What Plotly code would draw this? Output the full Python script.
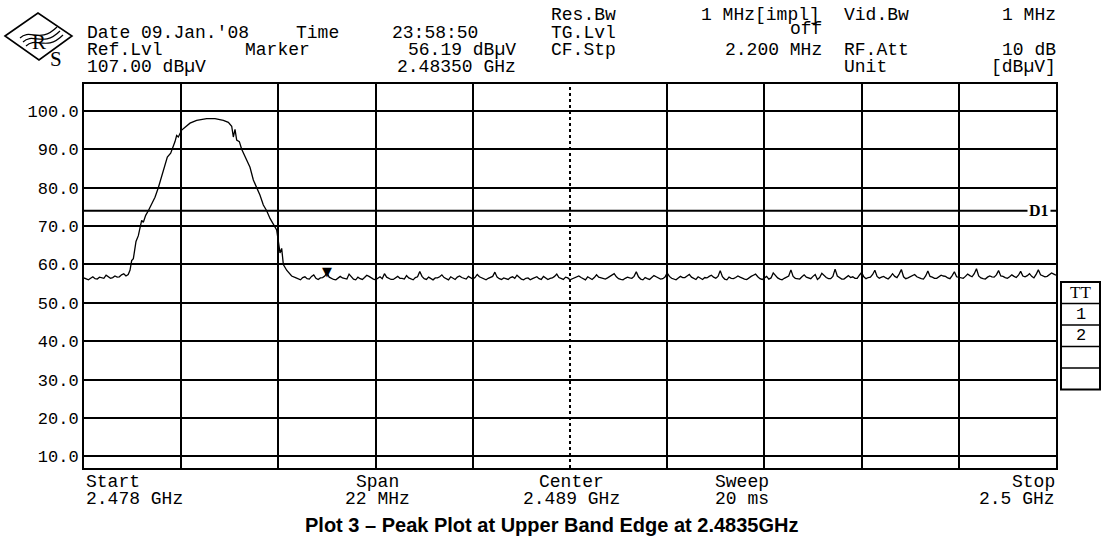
import numpy as np
import plotly.graph_objects as go

# ---------------- data ----------------
start_mhz, stop_mhz = 2478.0, 2500.0
ref_level_db, bottom_level_db = 107.0, 7.0
grid_db = [10, 20, 30, 40, 50, 60, 70, 80, 90, 100]
div_mhz = 2.2
center_mhz = 2489.0
display_line_db = 74.0
marker_freq_mhz = 2483.5
marker_level_db = 56.19

left_floor_db = [56.5, 56.2, 56.0, 56.4, 56.8, 56.3, 56.2, 56.7, 56.6, 56.4,
                 57.2, 56.8, 56.4, 56.6, 57.0, 56.7, 56.8, 57.3, 57.6, 57.0]
left_floor_freq = list(np.round(2478.0 + 0.05 * np.arange(len(left_floor_db)), 3))

edge_freq = [2479.000, 2479.041, 2479.079, 2479.117, 2479.177, 2479.230, 2479.268, 2479.305, 2479.343,
             2479.396, 2479.456, 2479.532, 2479.607, 2479.682, 2479.781, 2479.833, 2479.886, 2479.962,
             2480.022, 2480.060, 2480.097, 2480.135, 2480.211, 2480.309, 2480.399, 2480.550, 2480.777,
             2480.965, 2481.154, 2481.267, 2481.343, 2481.380, 2481.418, 2481.456, 2481.516, 2481.569,
             2481.644, 2481.720, 2481.757, 2481.833, 2481.908, 2481.984, 2482.059, 2482.135, 2482.210,
             2482.285, 2482.361, 2482.399, 2482.436, 2482.474, 2482.512, 2482.587, 2482.700]
edge_db = [57.4, 58.5, 61.0, 61.5, 66.0, 67.5, 70.0, 71.5, 71.0,
           72.8, 74.0, 76.0, 77.5, 80.0, 84.0, 85.8, 88.0, 89.0,
           90.6, 92.0, 93.6, 93.2, 95.0, 96.0, 96.8, 97.5, 98.0,
           98.0, 97.5, 97.0, 96.0, 93.2, 95.2, 92.4, 92.0, 90.0,
           88.0, 86.0, 85.3, 82.0, 80.0, 78.0, 75.5, 74.0, 72.0,
           70.5, 69.0, 66.0, 63.0, 64.2, 60.0, 58.5, 57.0]

right_floor_db = [
    56.5, 56.2, 56.0, 56.6, 56.8, 56.3, 56.2, 56.9, 57.3, 56.4, 56.1, 56.5, 56.6, 57.0, 57.8, 56.7, 56.3, 56.1, 56.0, 56.4,
    56.9, 56.5, 56.4, 56.2, 57.5, 56.8, 56.2, 56.0, 56.7, 56.3, 56.1, 56.6, 57.2, 56.9, 56.5, 56.2, 56.0, 56.5, 56.8, 56.3,
    57.6, 56.7, 56.3, 56.1, 56.1, 56.6, 56.9, 56.4, 56.4, 56.2, 57.1, 56.5, 56.2, 56.0, 56.6, 56.8, 58.2, 56.9, 56.3, 56.1,
    56.7, 56.3, 56.0, 56.5, 56.5, 56.8, 57.3, 56.6, 56.2, 56.0, 56.8, 56.4, 56.1, 56.7, 57.0, 56.6, 56.4, 56.2, 56.9, 56.5,
    56.2, 56.6, 57.4, 56.8, 56.6, 56.3, 56.0, 56.4, 56.7, 56.9, 58.0, 56.7, 56.3, 56.1, 56.5, 56.3, 56.1, 56.6, 56.8, 56.4,
    57.2, 56.7, 56.2, 56.0, 56.4, 56.5, 56.0, 56.3, 56.6, 56.8, 56.3, 56.1, 56.9, 56.5, 56.1, 56.4, 56.5, 56.9, 57.5, 56.6,
    56.3, 56.1, 56.7, 56.5, 56.0, 56.2, 56.4, 56.8, 57.0, 56.6, 56.2, 56.0, 56.8, 56.5, 56.1, 56.6, 57.3, 56.7, 56.5, 56.2,
    56.2, 56.5, 56.9, 57.1, 57.6, 56.8, 56.3, 56.1, 56.0, 56.4, 56.7, 56.5, 56.4, 56.9, 58.1, 56.8, 56.2, 56.0, 56.6, 56.3,
    56.1, 56.6, 57.1, 56.8, 56.5, 56.2, 56.3, 56.7, 57.8, 56.9, 56.4, 56.1, 56.0, 56.5, 56.9, 56.6, 56.6, 57.0, 57.4, 56.7,
    56.3, 56.1, 56.8, 56.4, 56.1, 56.6, 56.5, 56.9, 57.2, 56.7, 56.4, 56.9, 58.4, 56.8, 56.2, 56.0, 56.7, 56.4, 56.3, 56.6,
    57.0, 56.7, 56.4, 56.2, 56.1, 56.6, 56.9, 57.2, 57.5, 56.8, 56.3, 56.1, 56.6, 56.9, 56.2, 56.5, 57.8, 57.1, 56.5, 56.2,
    56.0, 56.4, 56.7, 57.0, 58.6, 56.9, 56.4, 56.2, 56.2, 56.8, 57.3, 56.7, 56.5, 56.3, 56.9, 57.4, 56.1, 56.6, 57.7, 57.0,
    56.6, 56.3, 56.3, 56.9, 58.8, 57.0, 56.5, 56.2, 56.2, 56.7, 57.1, 56.6, 56.8, 56.4, 56.4, 57.2, 57.9, 56.8, 56.3, 56.6,
    56.7, 57.4, 58.5, 56.9, 56.4, 56.7, 56.9, 56.5, 56.2, 56.8, 57.6, 56.9, 56.6, 57.5, 58.7, 56.8, 56.3, 56.5, 56.8, 57.1,
    57.4, 56.8, 56.5, 56.3, 56.2, 57.0, 58.3, 56.9, 56.7, 56.4, 56.4, 56.8, 57.2, 57.0, 56.9, 56.5, 56.3, 57.1, 58.1, 56.8,
    56.6, 56.4, 56.4, 56.9, 57.5, 57.1, 56.8, 57.6, 58.9, 57.0, 56.5, 56.3, 56.2, 56.7, 57.0, 56.8, 56.7, 57.3, 58.4, 57.0,
    56.9, 56.6, 56.4, 56.8, 57.3, 56.9, 56.6, 57.2, 58.2, 57.0, 56.8, 57.1, 57.6, 56.9, 56.5, 57.4, 58.6, 57.3, 57.1, 56.8,
    56.9, 57.4, 57.8, 57.5, 57.2]
right_floor_freq = list(np.round(2482.8 + 0.05 * np.arange(len(right_floor_db)), 3))

freq = left_floor_freq + edge_freq + right_floor_freq
level = left_floor_db + edge_db + right_floor_db

header_rows = [
    [("Res.Bw", 549, "left"), ("1 MHz[impl]", 822, "right"), ("Vid.Bw", 842, "left"), ("1 MHz", 1058, "right")],
    [("Date 09.Jan.'08", 85, "left"), ("Time", 294, "left"), ("23:58:50", 480, "right"),
     ("TG.Lvl", 549, "left")],
    [("Ref.Lvl", 85, "left"), ("Marker", 243, "left"), ("56.19 dBµV", 518, "right"), ("CF.Stp", 549, "left"),
     ("2.200 MHz", 824, "right"), ("RF.Att", 842, "left"), ("10 dB", 1058, "right")],
    [("107.00 dBµV", 85, "left"), ("2.48350 GHz", 518, "right"), ("Unit", 842, "left"), ("[dBµV]", 1058, "right")],
]
header_y = [15, 33, 50, 67]

footer_items = [
    ("Start", "2.478 GHz", 84, "left"),
    ("Span", "22 MHz", 377, "center"),
    ("Center", "2.489 GHz", 571, "center"),
    ("Sweep", "20 ms", 713, "left"),
    ("Stop", "2.5 GHz", 1057, "right"),
]
caption = "Plot 3 – Peak Plot at Upper Band Edge at 2.4835GHz"
tt_rows = ["TT", "1", "2", "", ""]

# ---------------- layout helpers ----------------
W, H = 1103, 544
L, R, T, B = 84, 1056, 84, 468


def px(x):
    return (x - L) / (R - L)


def py(y):
    return (B - y) / (B - T)


MONO = "Liberation Mono, DejaVu Sans Mono, monospace"
HSIZE = 18

fig = go.Figure()
fig.add_trace(go.Scatter(x=freq, y=level, mode="lines",
                         line=dict(color="black", width=1.3), hoverinfo="skip", showlegend=False))

shapes = []
annotations = []

shapes.append(dict(type="line", xref="x", yref="paper", x0=center_mhz, x1=center_mhz, y0=0, y1=1,
                   line=dict(color="black", width=2, dash="dot"), layer="below"))
shapes.append(dict(type="line", xref="paper", yref="y", x0=0, x1=1, y0=display_line_db, y1=display_line_db,
                   line=dict(color="black", width=2), layer="below"))
annotations.append(dict(xref="x", yref="y", x=2499.62, y=display_line_db, text="<b>D1</b>", showarrow=False,
                        font=dict(family="Liberation Serif, serif", size=16, color="black"),
                        bgcolor="white", borderpad=1))
annotations.append(dict(xref="x", yref="y", x=marker_freq_mhz, y=marker_level_db, text="▼", showarrow=False,
                        yanchor="bottom", yshift=-2,
                        font=dict(family="DejaVu Sans", size=13, color="black")))

for row, yy in zip(header_rows, header_y):
    for text, xx, anc in row:
        annotations.append(dict(xref="paper", yref="paper", x=px(xx), y=py(yy), text=text, showarrow=False,
                                xanchor=anc, yanchor="middle",
                                font=dict(family=MONO, size=HSIZE, color="black")))
annotations.append(dict(xref="paper", yref="paper", x=px(824), y=py(29), text="off", showarrow=False,
                        xanchor="right", yanchor="middle", font=dict(family=MONO, size=HSIZE, color="black")))

for top, bot, xx, anc in footer_items:
    for text, yy in ((top, 482), (bot, 499)):
        annotations.append(dict(xref="paper", yref="paper", x=px(xx), y=py(yy), text=text, showarrow=False,
                                xanchor=anc, yanchor="middle",
                                font=dict(family=MONO, size=HSIZE, color="black")))

annotations.append(dict(xref="paper", yref="paper", x=px(552), y=py(525), text="<b>" + caption + "</b>",
                        showarrow=False, xanchor="center", yanchor="middle",
                        font=dict(family="Liberation Sans, Arial, sans-serif", size=20, color="black")))

# TT box
bx0, bx1, by0 = 1061, 1100, 282
row_h = 21.5
shapes.append(dict(type="rect", xref="paper", yref="paper", x0=px(bx0), x1=px(bx1),
                   y0=py(by0), y1=py(by0 + row_h * len(tt_rows)), line=dict(color="black", width=2)))
for i, t in enumerate(tt_rows):
    if i > 0:
        yl = by0 + row_h * i
        shapes.append(dict(type="line", xref="paper", yref="paper", x0=px(bx0), x1=px(bx1), y0=py(yl), y1=py(yl),
                           line=dict(color="black", width=1.5)))
    if t:
        fam = "Liberation Serif, serif" if t == "TT" else MONO
        annotations.append(dict(xref="paper", yref="paper", x=px((bx0 + bx1) / 2), y=py(by0 + row_h * (i + 0.5)),
                                text=t, showarrow=False, xanchor="center", yanchor="middle",
                                font=dict(family=fam, size=17, color="black")))


def path_px(cmds):
    out = []
    for c in cmds:
        if isinstance(c, str):
            out.append(c)
        else:
            out.append(f"{px(c[0]):.5f},{py(c[1]):.5f}")
    return " ".join(out)


# R&S logo
shapes.append(dict(type="path", xref="paper", yref="paper",
                   path=path_px(["M", (5, 36), "L", (38, 13), "L", (72, 36), "L", (39, 60), "Z"]),
                   line=dict(color="black", width=1.6)))
for i in range(3):
    dx, dy = 3 * i, 4 * i
    shapes.append(dict(type="path", xref="paper", yref="paper",
                       path=path_px(["M", (20 + dx, 38 + dy), "C", (30 + dx, 28 + dy), (40 + dx, 44 + dy),
                                     (57 + dx, 27 + dy)]),
                       line=dict(color="black", width=1.2)))
annotations.append(dict(xref="paper", yref="paper", x=px(30), y=py(28), text="R", showarrow=False,
                        font=dict(family="Liberation Serif, serif", size=21, color="black")))
annotations.append(dict(xref="paper", yref="paper", x=px(48), y=py(45), text="S", showarrow=False,
                        font=dict(family="Liberation Serif, serif", size=21, color="black")))

x_grid = [round(start_mhz + div_mhz * i, 3) for i in range(1, 10) if i != 5]

fig.update_layout(
    width=W, height=H,
    margin=dict(l=L, r=W - R, t=T, b=H - B),
    paper_bgcolor="white", plot_bgcolor="white",
    showlegend=False,
    shapes=shapes, annotations=annotations,
    xaxis=dict(range=[start_mhz, stop_mhz], tickvals=x_grid, showticklabels=False, ticks="",
               showgrid=True, gridcolor="black", gridwidth=2, zeroline=False,
               showline=True, mirror=True, linecolor="black", linewidth=2),
    yaxis=dict(range=[bottom_level_db, ref_level_db], tickvals=grid_db,
               ticktext=[f"{v:.1f}" for v in grid_db], ticks="",
               tickfont=dict(family=MONO, size=17, color="black"),
               showgrid=True, gridcolor="black", gridwidth=2, zeroline=False,
               showline=True, mirror=True, linecolor="black", linewidth=2),
)

fig.write_html("out.html", config={"displayModeBar": False},
               post_script="document.body.style.margin='0px';document.body.style.overflow='hidden';")
